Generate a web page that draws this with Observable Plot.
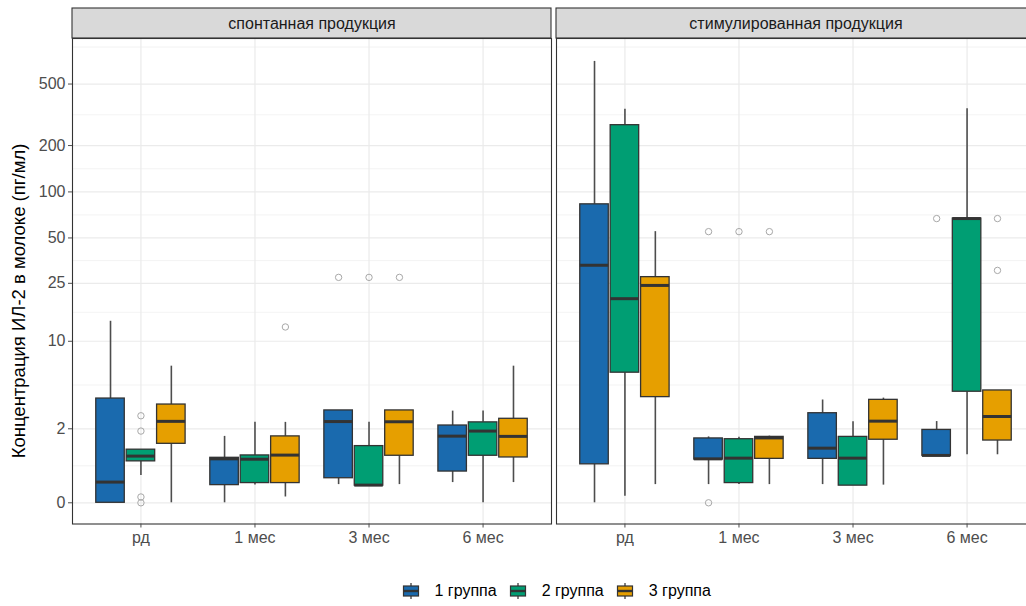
<!DOCTYPE html>
<html><head><meta charset="utf-8">
<script src="https://cdn.jsdelivr.net/npm/d3@7"></script>
<script src="https://cdn.jsdelivr.net/npm/@observablehq/plot@0.6"></script>
<style>
html,body{margin:0;padding:0;background:#fff;overflow:hidden;width:1026px;height:606px}
#wrap{position:relative;width:1026px;height:606px;overflow:hidden;font-family:"Liberation Sans",Arial,sans-serif}
#wrap svg.chart{max-width:none !important;width:1036px;height:565px}
#legend{position:absolute;top:581px;left:400.5px;display:flex;align-items:center;font-size:16px;color:#000;white-space:nowrap}
#legend .item{display:flex;align-items:center;margin-right:11px}
#legend .item span{margin-left:14px}
</style></head><body><div id="wrap"><div id="legend"></div></div>
<script>
// ---- data ----
const panels = ["спонтанная продукция", "стимулированная продукция"];
const times = ["рд", "1 мес", "3 мес", "6 мес"];
const groups = ["1 группа", "2 группа", "3 группа"];
const colors = ["#1A6AAE", "#009E73", "#E69F00"];

// order: panel → time → group
const whiskerLow  = [0,    0.5,  0,    0,    0.3,  0.09, 0.31, 0.29, 0.31, 0.35, 0,    0.35,
                     0,    0.1,  0.31, 0.31, 0.31, 0.31, 0.31, 0.29, 0.3,  1.01, 1.04, 1.04];
const q1          = [0,    0.85, 1.4,  0.3,  0.34, 0.34, 0.44, 0.29, 1.01, 0.59, 1.01, 0.96,
                     0.77, 5.9,  3.8,  0.9,  0.34, 0.92, 0.92, 0.29, 1.55, 1.01, 4.2,  1.52];
const median      = [0.36, 1.0,  2.35, 0.92, 0.91, 1.03, 2.34, 0.3,  2.33, 1.69, 1.9,  1.68,
                     33,   19.7, 24.2, 0.92, 0.94, 1.62, 1.25, 0.94, 2.36, 1.02, 67,   2.6];
const q3          = [3.7,  1.2,  3.3,  0.95, 1.02, 1.68, 2.94, 1.32, 2.94, 2.15, 2.3,  2.48,
                     83,   271,  27.5, 1.6,  1.57, 1.66, 2.78, 1.66, 3.61, 1.95, 67,   4.3];
const whiskerHigh = [13.8, 1.2,  6.6,  1.68, 2.3,  2.3,  2.94, 2.3,  2.94, 2.9,  2.9,  6.6,
                     700,  344,  55,   1.66, 1.65, 1.69, 3.6,  2.33, 3.73, 2.34, 346,  4.3];

// outliers: panel index, time index, group index, value
const outlierPanel = [0, 0, 0, 0, 0, 0, 0, 0, 1, 1, 1, 1, 1, 1, 1];
const outlierTime  = [0, 0, 0, 0, 1, 2, 2, 2, 1, 1, 1, 1, 3, 3, 3];
const outlierGroup = [1, 1, 1, 1, 2, 0, 1, 2, 0, 0, 1, 2, 0, 2, 2];
const outlierValue = [2.64, 1.9, 0.09, 0, 12.6, 27.4, 27.4, 27.4, 55, 0, 55, 55, 67, 67, 30.5];

const yTicks = [0, 2, 10, 25, 50, 100, 200, 500];
const yDomain = [-0.37, 984];

// ---- build tables ----
const boxes = [];
let k = 0;
panels.forEach((p) => times.forEach((t, ti) => groups.forEach((g, gi) => {
  boxes.push({panel: p, time: t, group: g, ti, gi,
    lo: whiskerLow[k], q1: q1[k], med: median[k], q3: q3[k], hi: whiskerHigh[k]});
  k++;
})));
const outliers = outlierValue.map((v, i) => ({
  panel: panels[outlierPanel[i]], ti: outlierTime[i], gi: outlierGroup[i], value: v
}));

const dodge = 0.8, boxW = 0.75 / groups.length;
const xc = d => d.ti + (d.gi - (groups.length - 1) / 2) * dodge / groups.length;
const xDomain = [-0.6, times.length - 1 + 0.6];

// minor breaks (midpoints in transformed space, ggplot style)
const tf = v => Math.log10(1 + v), tinv = t => Math.pow(10, t) - 1;
const minorTicks = [];
for (let i = 0; i < yTicks.length - 1; i++) minorTicks.push(tinv((tf(yTicks[i]) + tf(yTicks[i + 1])) / 2));
minorTicks.push(tinv(tf(yTicks[yTicks.length - 1]) + (tf(yTicks[1]) - tf(yTicks[0])) / 2));

const font = '"Liberation Sans", Arial, sans-serif';
const grid = "#EBEBEB";
const fs = 16;

const chart = Plot.plot({
  className: "chart",
  width: 1036, height: 565,
  marginLeft: 71, marginRight: 0, marginTop: 38, marginBottom: 41.5,
  style: {fontFamily: font, fontSize: fs + "px", background: "transparent", overflow: "visible", maxWidth: "none"},
  fx: {domain: panels, paddingInner: 0.0103, paddingOuter: 0, axis: null, label: null},
  x: {type: "linear", domain: xDomain, axis: null},
  y: {type: "symlog", constant: 1, domain: yDomain, axis: null},
  color: {domain: groups, range: colors},
  marks: [
    Plot.rect(panels, {fx: d => d, x1: () => xDomain[0], x2: () => xDomain[1],
      y1: () => yDomain[1], y2: () => yDomain[1], insetTop: -30,
      fill: "#D9D9D9", stroke: "#333333", strokeWidth: 1.1}),
    Plot.text(panels, {fx: d => d, text: d => d, frameAnchor: "top", lineAnchor: "middle", dy: -15,
      fill: "#1A1A1A", fontSize: fs}),
    Plot.gridY(minorTicks, {stroke: grid, strokeOpacity: 1, strokeWidth: 0.6}),
    Plot.gridY(yTicks, {stroke: grid, strokeOpacity: 1, strokeWidth: 1.2}),
    Plot.gridX(d3.range(times.length), {stroke: grid, strokeOpacity: 1, strokeWidth: 1.2}),
    Plot.ruleX(boxes, {fx: "panel", x: xc, y1: "lo", y2: "q1", stroke: "#4D4D4D", strokeWidth: 1.6}),
    Plot.ruleX(boxes, {fx: "panel", x: xc, y1: "q3", y2: "hi", stroke: "#4D4D4D", strokeWidth: 1.6}),
    Plot.rect(boxes, {fx: "panel", x1: d => xc(d) - boxW / 2, x2: d => xc(d) + boxW / 2,
      y1: "q1", y2: "q3", fill: "group", stroke: "#333333", strokeWidth: 1.3}),
    Plot.ruleY(boxes, {fx: "panel", x1: d => xc(d) - boxW / 2, x2: d => xc(d) + boxW / 2,
      y: "med", stroke: "#333333", strokeWidth: 3}),
    Plot.dot(outliers, {fx: "panel", x: xc, y: "value", r: 3.2, stroke: "#A8A8A8",
      fill: "none", strokeWidth: 1}),
    Plot.frame({stroke: "#333333", strokeWidth: 1.1}),
    Plot.axisY(yTicks, {anchor: "left", tickFormat: d => String(d), tickSize: 4, tickPadding: 3,
      color: "#4D4D4D", label: null, fontSize: fs}),
    Plot.axisX(d3.range(times.length), {anchor: "bottom", tickFormat: i => times[i], tickSize: 4,
      tickPadding: 4, color: "#4D4D4D", label: null, fontSize: fs})
  ]
});

const wrap = document.getElementById("wrap");
wrap.insertBefore(chart, wrap.firstChild);
chart.style.position = "absolute"; chart.style.left = "0"; chart.style.top = "0";
chart.style.maxWidth = "none"; chart.style.width = "1036px"; chart.style.height = "565px";

// y axis title
d3.select(chart).append("text")
  .attr("transform", "translate(18,301) rotate(-90)")
  .attr("text-anchor", "middle").attr("dominant-baseline", "central")
  .attr("font-family", font).attr("font-size", 18.5).attr("fill", "#000")
  .text("Концентрация ИЛ-2 в молоке (пг/мл)");

// legend
const legend = d3.select("#legend");
groups.forEach((g, i) => {
  const item = legend.append("div").attr("class", "item");
  const s = item.append("svg").attr("width", 20).attr("height", 20);
  s.append("line").attr("x1", 10).attr("x2", 10).attr("y1", 2).attr("y2", 18).attr("stroke", "#4D4D4D").attr("stroke-width", 1.4);
  s.append("rect").attr("x", 2.5).attr("y", 5).attr("width", 15).attr("height", 10)
    .attr("fill", colors[i]).attr("stroke", "#333").attr("stroke-width", 1.2);
  s.append("line").attr("x1", 2.5).attr("x2", 17.5).attr("y1", 10).attr("y2", 10).attr("stroke", "#333").attr("stroke-width", 2.4);
  item.append("span").text(g);
});
</script>
</body></html>
